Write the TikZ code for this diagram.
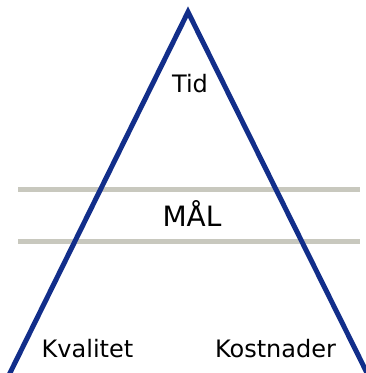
\documentclass[tikz,border=0pt]{standalone}
\usepackage{fontspec}
\setmainfont{DejaVu Sans}
\definecolor{triblue}{RGB}{18,46,138}
\definecolor{bargrey}{RGB}{200,200,190}
\tikzset{
  side/.style={draw=triblue, line width=5pt, line join=miter},
  bar/.style={draw=bargrey, line width=5.5pt},
  lbl/.style={anchor=base, inner sep=0pt, font=\fontsize{24}{28}\selectfont, text=black},
  biglbl/.style={anchor=base, inner sep=0pt, font=\fontsize{28}{33}\selectfont, text=black}
}
\begin{document}
\begin{tikzpicture}[x=1pt,y=-1pt]
\useasboundingbox (0,0) rectangle (366,373);
\coordinate (b1l) at (18,189.5);
\coordinate (b1r) at (360,189.5);
\coordinate (b2l) at (18,241.5);
\coordinate (b2r) at (360,241.5);
\draw[bar] (b1l) -- (b1r);
\draw[bar] (b2l) -- (b2r);
\coordinate (apex) at (188,12);
\coordinate (bl) at (8,377);
\coordinate (br) at (369,377);
\draw[side] (bl) -- (apex) -- (br);
\node[lbl] (tid) at (190,92) {Tid};
\node[biglbl] (maal) at (192,226.5) {MÅL};
\node[lbl] (kval) at (87.5,357) {Kvalitet};
\node[lbl] (kost) at (275.5,357) {Kostnader};
\end{tikzpicture}
\end{document}
